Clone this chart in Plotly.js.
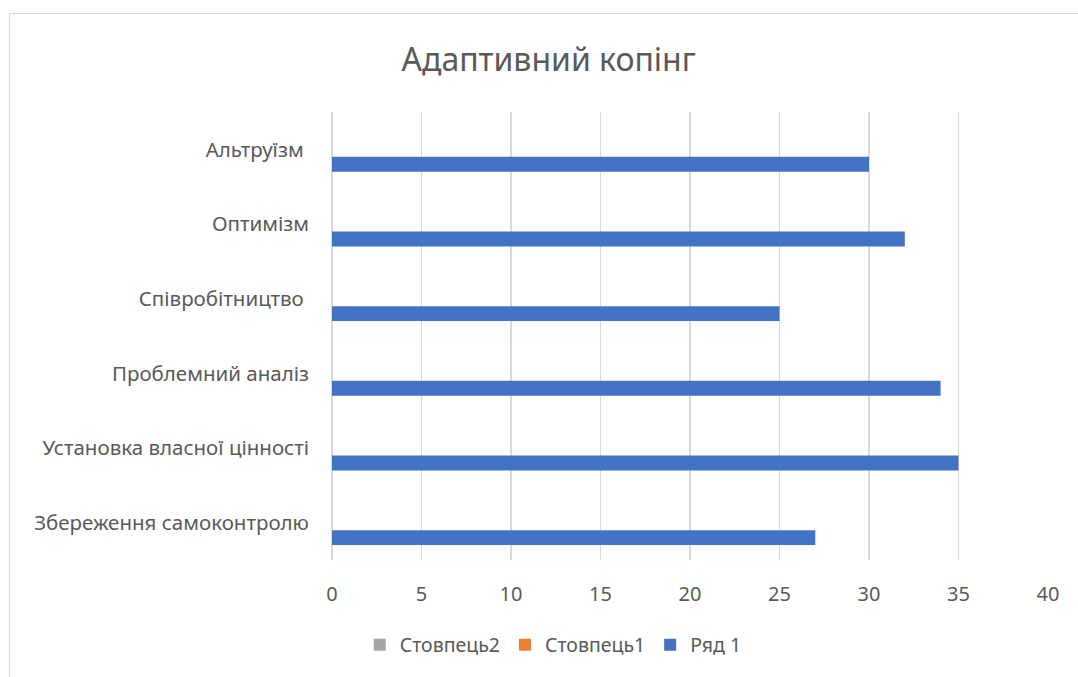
<!DOCTYPE html>
<html>
<head>
<meta charset="utf-8">
<script src="https://cdn.plot.ly/plotly-3.0.1.min.js"></script>
<style>
  html, body { margin: 0; padding: 0; background: #ffffff; overflow: hidden; }
  #chart { width: 1078px; height: 677px; }
  #frame { position: absolute; left: 9px; top: 13px; width: 1100px; height: 700px; border: 1px solid #d9d9d9; pointer-events: none; }
</style>
</head>
<body>
<div id="chart"></div>
<div id="frame"></div>
<script>
// Categories listed bottom to top
const categories = [
  "Збереження самоконтролю",
  "Установка власної цінності",
  "Проблемний аналіз",
  "Співробітництво ",
  "Оптимізм",
  "Альтруїзм "
];
const ryad1 = [27, 35, 34, 25, 32, 30];
const stovpets1 = [0, 0, 0, 0, 0, 0];
const stovpets2 = [0, 0, 0, 0, 0, 0];
const xTicks = [0, 5, 10, 15, 20, 25, 30, 35, 40];

const FONT = "Noto Sans, Open Sans, sans-serif";
const TXT = "#595959";

const traces = [
  { type: "bar", orientation: "h", name: "Ряд 1", y: categories, x: ryad1,
    marker: { color: "#4472c4" }, hoverinfo: "x+y" },
  { type: "bar", orientation: "h", name: "Стовпець1", y: categories, x: stovpets1,
    marker: { color: "#ed7d31" }, hoverinfo: "x+y" },
  { type: "bar", orientation: "h", name: "Стовпець2", y: categories, x: stovpets2,
    marker: { color: "#a5a5a5" }, hoverinfo: "x+y" }
];

const layout = {
  width: 1078, height: 677,
  paper_bgcolor: "rgba(0,0,0,0)", plot_bgcolor: "rgba(0,0,0,0)",
  margin: { l: 332, r: 30, t: 112, b: 115 },
  font: { family: FONT, color: TXT, size: 20 },
  title: {
    text: "Адаптивний копінг",
    font: { family: FONT, size: 32, color: TXT },
    xref: "container", x: 0.509, xanchor: "center",
    yref: "container", y: 0.912, yanchor: "middle"
  },
  barmode: "group", bargap: 0.4, bargroupgap: 0,
  xaxis: {
    range: [0, 40], tickvals: xTicks, ticktext: xTicks.map(String),
    showgrid: true, gridcolor: "#d9d9d9", gridwidth: 1.5,
    zeroline: true, zerolinecolor: "#d9d9d9", zerolinewidth: 1.5,
    showline: false, ticks: "", ticklabelstandoff: 20,
    tickfont: { family: FONT, size: 20, color: TXT }, fixedrange: true
  },
  yaxis: {
    type: "category", showgrid: false, zeroline: false, showline: false,
    ticks: "", ticklabelstandoff: 22,
    tickfont: { family: FONT, size: 20.5, color: TXT }, fixedrange: true
  },
  showlegend: true,
  legend: {
    orientation: "h", traceorder: "reversed",
    x: 0.309, xanchor: "center", y: -0.19, yanchor: "middle",
    font: { family: FONT, size: 19.5, color: TXT }
  }
};

Plotly.newPlot("chart", traces, layout, { displayModeBar: false, staticPlot: true });
</script>
</body>
</html>
